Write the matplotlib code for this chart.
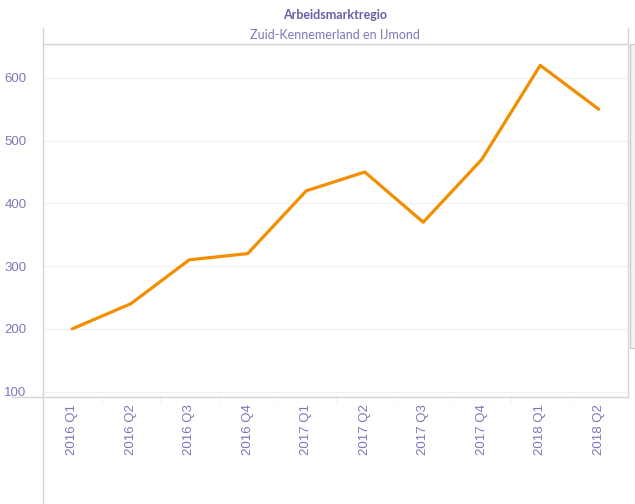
import numpy as np
import matplotlib
matplotlib.use('Agg')
import matplotlib.pyplot as plt
from matplotlib.lines import Line2D
from matplotlib.patches import Rectangle

kwartalen = ['2016 Q1', '2016 Q2', '2016 Q3', '2016 Q4', '2017 Q1',
             '2017 Q2', '2017 Q3', '2017 Q4', '2018 Q1', '2018 Q2']
aantal = [200, 240, 310, 320, 420, 450, 370, 470, 620, 550]
y_ticks = [100, 200, 300, 400, 500, 600]

W, H = 635, 504
tekst_kleur = '#7b78b8'
lijn_kleur = '#d4d4d4'

fig = plt.figure(figsize=(W / 100, H / 100), dpi=100)
ax = fig.add_axes([43 / W, (H - 396) / H, 585 / W, (396 - 44) / H])

x = np.arange(len(kwartalen))
ax.plot(x, aantal, color='#f28e00', linewidth=2.3, solid_capstyle='round', zorder=3)

ax.set_xlim(-0.5, len(kwartalen) - 0.5)
ax.set_ylim(93, 654)
ax.set_yticks(y_ticks)
ax.set_yticklabels([str(v) for v in y_ticks], color=tekst_kleur, fontsize=9.5, family='Liberation Sans')
ax.set_xticks(x)
ax.set_xticklabels(kwartalen, rotation=90, color=tekst_kleur, fontsize=9.5, family='Liberation Sans')
ax.set_xticks(x[:-1] + 0.5, minor=True)
ax.tick_params(axis='x', which='major', length=0, pad=6)
ax.tick_params(axis='x', which='minor', length=4, color='#eeeeee')
ax.tick_params(axis='y', length=0, pad=12)

ax.grid(axis='y', color='#f0f0f0', linewidth=0.8)
ax.set_axisbelow(True)
for s in ['top', 'bottom', 'left', 'right']:
    ax.spines[s].set_visible(False)

def fl(x0, y0, x1, y1, c=lijn_kleur, lw=1.0):
    fig.add_artist(Line2D([x0 / W, x1 / W], [1 - y0 / H, 1 - y1 / H], color=c, linewidth=lw))

# kader rond de grafiek
fl(43, 28, 43, 504)
fl(628, 28, 628, 397)
fl(43, 44, 628, 44)
fl(12, 396.5, 628, 396.5)

# schuifbalk rechts
fig.add_artist(Rectangle((630 / W, 1 - 348 / H), 6 / W, (348 - 44) / H,
                         facecolor='#f2f2f2', edgecolor='#c8c8c8', linewidth=0.8))

fig.text(335 / W, 1 - 15 / H, 'Arbeidsmarktregio', ha='center', va='center',
         color='#6a5fa5', fontsize=9, fontweight='bold', family='Lato')
fig.text(335 / W, 1 - 35 / H, 'Zuid-Kennemerland en IJmond', ha='center', va='center',
         color=tekst_kleur, fontsize=9, family='Lato')

fig.savefig('out.png', dpi=100)
